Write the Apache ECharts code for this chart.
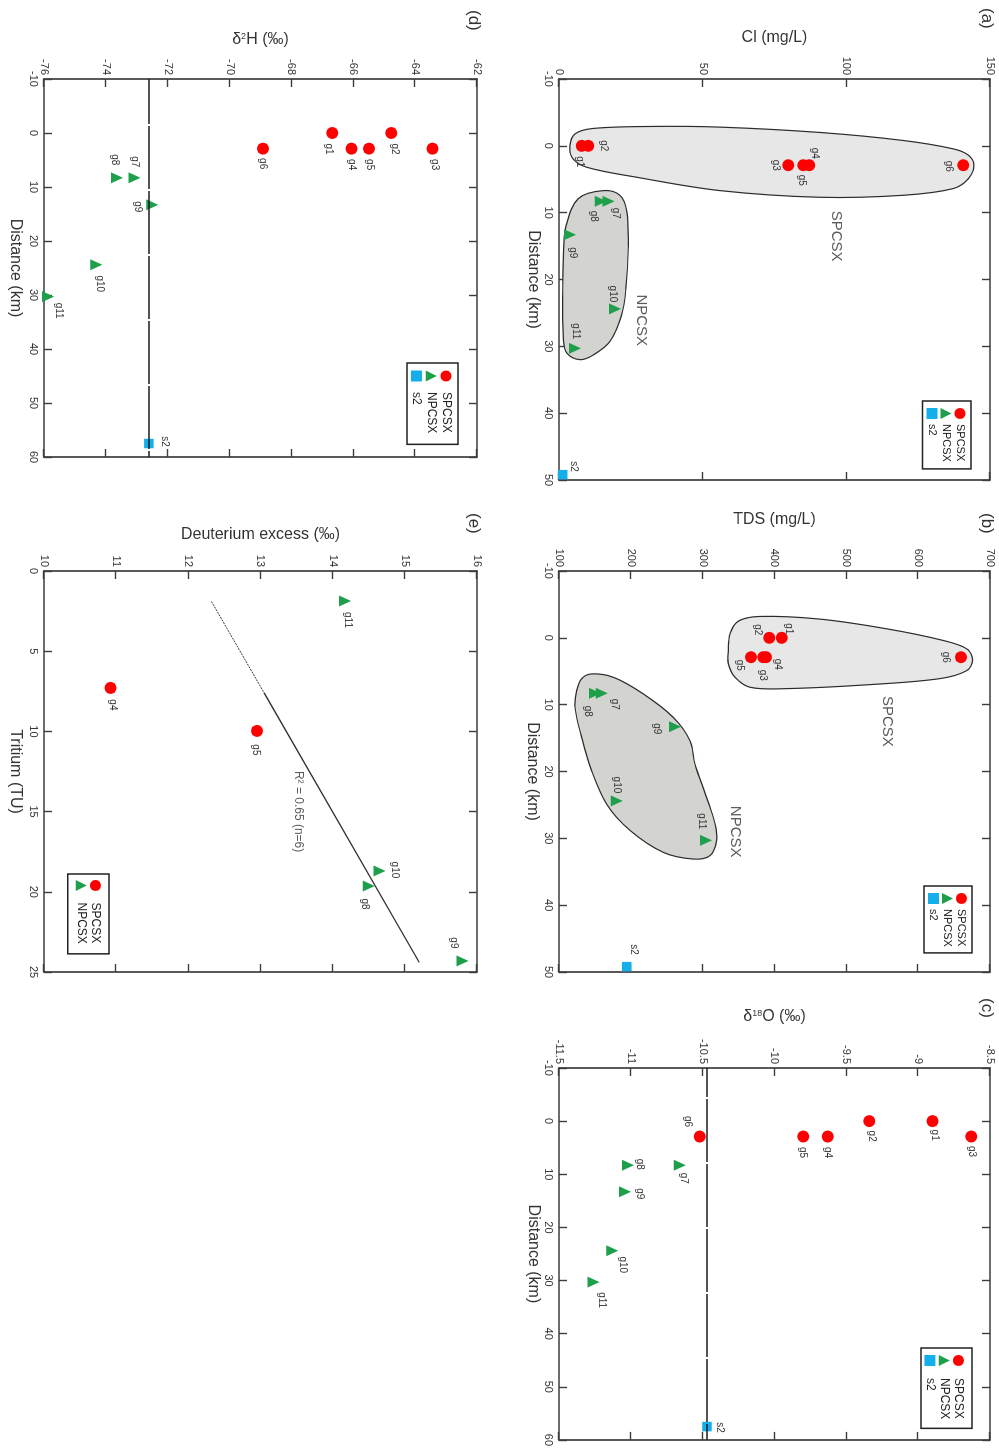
<!DOCTYPE html>
<html>
<head>
<meta charset="utf-8">
<title>Groundwater chemistry and isotopes along the flow path</title>
<script src="https://cdn.jsdelivr.net/npm/echarts/dist/echarts.min.js"></script>
<style>
  html, body { margin: 0; padding: 0; width: 999px; height: 1449px; overflow: hidden; background: #fff; }
  /* the figure is laid out landscape and turned a quarter turn clockwise */
  #figure {
    position: absolute; left: 0; top: 0;
    width: 1449px; height: 999px;
    transform-origin: 0 0;
    transform: translate(999px, 0) rotate(90deg);
  }
</style>
</head>
<body>
<div id="figure"></div>
<script>
// ---------- sample data ----------
const spNames = ['g1', 'g2', 'g3', 'g4', 'g5', 'g6'];      // SPCSX springs
const npNames = ['g7', 'g8', 'g9', 'g10', 'g11'];          // NPCSX springs
const s2Name = ['s2'];

// distance along the flow path (km)
const spDistance = [0, 0, 2.9, 2.9, 2.9, 2.9];
const npDistance = [8.3, 8.3, 13.3, 24.4, 30.3];
const s2DistanceEdge = [49.2];   // drawn at the end of the 0-50 km axis
const s2Distance = [57.5];

// Cl (mg/L)
const spCl = [7.9, 10.2, 79.8, 87.1, 85.0, 140.7];
const npCl = [17.2, 14.5, 3.8, 19.5, 5.6];
const s2Cl = [1.3];

// TDS (mg/L)
const spTDS = [410, 392.8, 384.5, 388.2, 367.3, 659.6];
const npTDS = [159.4, 150.1, 261.5, 180.3, 304.7];
const s2TDS = [194.2];

// delta 18O (permil)
const spO18 = [-8.90, -9.34, -8.63, -9.63, -9.80, -10.52];
const npO18 = [-10.66, -11.02, -11.04, -11.13, -11.26];
const s2O18 = [-10.47];

// delta 2H (permil)
const spH2 = [-66.68, -64.77, -63.44, -66.06, -65.49, -68.92];
const npH2 = [-73.07, -73.64, -72.50, -74.31, -75.87];
const s2H2 = [-72.61];

// tritium (TU) vs deuterium excess (permil)
const spTritNames = ['g4', 'g5'];
const spTritium = [7.29, 9.97];
const spDexcess = [10.92, 12.95];
const npTritNames = ['g8', 'g9', 'g10', 'g11'];
const npTritium = [19.64, 24.31, 18.70, 1.87];
const npDexcess = [14.50, 15.80, 14.65, 14.17];

// regression line, dotted start then solid
const trendTritium = [1.9, 7.6, 24.4];
const trendDexcess = [12.32, 13.05, 15.20];
const trendText = 'R\u00b2 = 0.65 (n=6)';

// outlines of the two spring groups: [distance, value]
const clFieldSP = [[0, 3.8], [-1.8, 5.6], [-2.6, 11.9], [-2.9, 32.8], [-2.8, 56], [-2.0, 90.8], [-0.8, 119.8],
  [0.45, 137.2], [1.4, 142.5], [2.9, 144.4], [4.9, 142.5], [6.4, 137.2], [7.4, 119.8], [7.7, 90.8],
  [6.7, 56], [4.7, 27], [3.2, 9.6], [1.9, 4.8]];
const clFieldNP = [[6.7, 15.4], [7.4, 21.2], [9.9, 23.6], [15.4, 24.1], [21.3, 23.3], [25.3, 21.8],
  [29.3, 17.7], [31.3, 11.9], [32.0, 7.3], [31.0, 2.7], [28.8, 1.5], [21.3, 1.3], [15.4, 1.6], [11.9, 2.5], [7.9, 6.7]];
const tdsFieldSP = [[1.9, 335.7], [-0.6, 338.1], [-2.5, 349.7], [-3.2, 379.8], [-2.8, 463.4], [-1.35, 556.2],
  [0.4, 635], [1.65, 667.6], [3.3, 675.9], [4.9, 667.6], [6.1, 630.4], [7.0, 533], [7.6, 417],
  [7.4, 365.9], [5.9, 345], [3.9, 335.7]];
const tdsFieldNP = [[10.4, 122.3], [7.9, 124.6], [6.1, 131.6], [5.4, 145.5], [5.9, 175.6], [8.4, 217.4],
  [11.9, 259.1], [15.4, 282.4], [18.9, 289.3], [23.9, 305.6], [27.8, 317.2], [30.3, 319.5], [32.6, 310.2],
  [33.1, 287], [32.1, 245.2], [28.8, 198.8], [24.9, 166.4], [19.9, 145.5], [14.9, 131.6]];

// group names written next to the outlines: [distance, value]
const clFieldText = [{ text: 'SPCSX', at: [13.5, 96.4] }, { text: 'NPCSX', at: [26.1, 28.5] }];
const tdsFieldText = [{ text: 'SPCSX', at: [12.5, 557] }, { text: 'NPCSX', at: [29.0, 345] }];

// ---------- styling ----------
const FONT = "'Liberation Sans', Arial, Helvetica, sans-serif";
const INK = '#333';
const RED = '#ff0000', GREEN = '#1e9f4b', BLUE = '#14aeea';
const FRAME = { color: '#3d3d3d', width: 1.7 };

// label placement around each marker (px, landscape orientation)
const labelOffsets = [
  { g1: [16, 2], g2: [0, -15], g3: [0, 13], g4: [-12, -5], g5: [15, 1], g6: [1, 15], g7: [12, -7], g8: [15, 7],
    g9: [18, -3], g10: [-15, 2], g11: [-17, -1], s2: [-8, -11] },
  { g1: [-9, -7], g2: [-8, 12], g3: [18, 1], g4: [7, -12], g5: [8, 11], g6: [0, 15], g7: [11, -13], g8: [18, 7],
    g9: [2, 18], g10: [-16, 0], g11: [-19, 4], s2: [-17, -7] },
  { g1: [14, -2], g2: [15, -2], g3: [15, 0], g4: [16, 0], g5: [16, 0], g6: [-15, 12], g7: [13, -4], g8: [-1, -12],
    g9: [2, -15], g10: [14, -11], g11: [18, -8], s2: [1, -13] },
  { g1: [16, 4], g2: [16, -3], g3: [16, -2], g4: [16, 0], g5: [16, -1], g6: [15, 0], g7: [-16, 0], g8: [-18, 2],
    g9: [2, 14], g10: [19, -3], g11: [14, -11], s2: [-2, -16] },
  { g11: [19, -3], g4: [17, -2], g5: [19, 1], g10: [-1, -15], g8: [18, 4], g9: [-18, 9] }
];

const grids = [
  { left: 79, top: 9, width: 401, height: 431 },
  { left: 571, top: 9, width: 401, height: 431 },
  { left: 1068, top: 9, width: 375, height: 431 },
  { left: 79, top: 522, width: 378, height: 433 },
  { left: 571, top: 522, width: 401, height: 433 }
];

const isoRich = {
  n: { fontFamily: FONT, fontSize: 16, color: INK },
  s: { fontFamily: FONT, fontSize: 9, color: INK, verticalAlign: 'top' }
};

const panels = [
  { x: [-10, 50, 10], xName: 'Distance (km)', xGap: 18, y: [0, 150, 50], yName: 'Cl (mg/L)', yGap: 33 },
  { x: [-10, 50, 10], xName: 'Distance (km)', xGap: 19, y: [100, 700, 100], yName: 'TDS (mg/L)', yGap: 43 },
  { x: [-10, 60, 10], xName: 'Distance (km)', xGap: 18, y: [-11.5, -8.5, 0.5], yName: '{n|\u03b4}{s|18}{n|O (\u2030)}', yGap: 43 },
  { x: [-10, 60, 10], xName: 'Distance (km)', xGap: 21, y: [-76, -62, 2], yName: '{n|\u03b4}{s|2}{n|H (\u2030)}', yGap: 31 },
  { x: [0, 25, 5], xName: 'Tritium (TU)', xGap: 21, y: [10, 16, 1], yName: 'Deuterium excess (\u2030)', yGap: 28 }
];

// ---------- axes ----------
const tick = { show: true, inside: true, length: 8, lineStyle: { color: FRAME.color, width: 1.4 } };
const xAxes = [], yAxes = [];
panels.forEach((p, g) => {
  const common = (r) => ({ type: 'value', gridIndex: g, min: r[0], max: r[1], interval: r[2],
    splitLine: { show: false }, axisLine: { show: true, onZero: false, lineStyle: FRAME }, axisTick: tick });
  xAxes.push(Object.assign(common(p.x), {
    position: 'bottom', name: p.xName, nameLocation: 'middle', nameGap: p.xGap,
    nameTextStyle: { fontFamily: FONT, fontSize: 16, color: INK },
    axisLabel: { fontFamily: FONT, fontSize: 11, color: INK, margin: 5 }
  }));
  xAxes.push(Object.assign(common(p.x), { position: 'top', axisLabel: { show: false } }));
  yAxes.push(Object.assign(common(p.y), {
    position: 'left', name: p.yName, nameLocation: 'middle', nameGap: p.yGap,
    nameTextStyle: { fontFamily: FONT, fontSize: 16, color: INK, rich: isoRich },
    axisLabel: { fontFamily: FONT, fontSize: 11, color: INK, margin: 4 }
  }));
  yAxes.push(Object.assign(common(p.y), { position: 'right', axisLabel: { show: false } }));
});

// ---------- series builders ----------
function points(g, name, xs, ys, names, symbol, size, color) {
  const offs = labelOffsets[g];
  return {
    type: 'scatter', name, xAxisIndex: g * 2, yAxisIndex: g * 2, symbol, symbolSize: size, z: 3,
    itemStyle: { color, opacity: 1 },
    label: { show: true, position: 'inside', formatter: '{b}', fontFamily: FONT, fontSize: 10, color: INK },
    data: xs.map((x, i) => ({ name: names[i], value: [x, ys[i]], label: { offset: offs[names[i]] || [0, 0] } }))
  };
}

function field(g, outline, fill) {
  return {
    type: 'custom', name: 'field', xAxisIndex: g * 2, yAxisIndex: g * 2, z: 1, silent: true,
    data: outline,
    renderItem(params, api) {
      if (params.dataIndex !== 0) return null;
      const pts = outline.map(p => api.coord(p));
      return { type: 'polygon', shape: { points: pts, smooth: 0.35 },
        style: { fill, stroke: '#2b2b2b', lineWidth: 1.2 } };
    }
  };
}

function texts(g, list, size) {
  return {
    type: 'scatter', name: 'note', xAxisIndex: g * 2, yAxisIndex: g * 2, symbolSize: 1, silent: true, z: 4,
    itemStyle: { color: 'rgba(0,0,0,0)' },
    label: { show: true, position: 'inside', formatter: '{b}', fontFamily: FONT, fontSize: size, color: INK },
    data: list.map(t => ({ name: t.text, value: t.at }))
  };
}

function s2Line(series, dash, offset) {
  series.markLine = {
    silent: true, symbol: ['none', 'none'], label: { show: false },
    lineStyle: { color: '#1c1c1c', width: 1.5, type: dash, dashOffset: offset },
    data: [{ yAxis: series.data[0].value[1] }]
  };
  return series;
}

const TRI = [11, 12];
const series = [
  // (a) Cl
  field(0, clFieldSP, '#e7e7e7'), field(0, clFieldNP, '#d3d3d0'), texts(0, clFieldText, 15),
  points(0, 'SPCSX', spDistance, spCl, spNames, 'circle', 12, RED),
  points(0, 'NPCSX', npDistance, npCl, npNames, 'triangle', TRI, GREEN),
  points(0, 's2', s2DistanceEdge, s2Cl, s2Name, 'rect', 9.5, BLUE),
  // (b) TDS
  field(1, tdsFieldSP, '#e7e7e7'), field(1, tdsFieldNP, '#d3d3d0'), texts(1, tdsFieldText, 15),
  points(1, 'SPCSX', spDistance, spTDS, spNames, 'circle', 12, RED),
  points(1, 'NPCSX', npDistance, npTDS, npNames, 'triangle', TRI, GREEN),
  points(1, 's2', s2DistanceEdge, s2TDS, s2Name, 'rect', 9.5, BLUE),
  // (c) delta 18O
  points(2, 'SPCSX', spDistance, spO18, spNames, 'circle', 12, RED),
  points(2, 'NPCSX', npDistance, npO18, npNames, 'triangle', TRI, GREEN),
  s2Line(points(2, 's2', s2Distance, s2O18, s2Name, 'rect', 9.5, BLUE), [63, 2], 34),
  // (d) delta 2H
  points(3, 'SPCSX', spDistance, spH2, spNames, 'circle', 12, RED),
  points(3, 'NPCSX', npDistance, npH2, npNames, 'triangle', TRI, GREEN),
  s2Line(points(3, 's2', s2Distance, s2H2, s2Name, 'rect', 9.5, BLUE), [63, 2], 18),
  // (e) tritium vs deuterium excess
  {
    type: 'line', name: 'trend', xAxisIndex: 8, yAxisIndex: 8, silent: true, symbol: 'none', z: 2,
    lineStyle: { color: '#3a3a3a', width: 1, type: [2, 1] },
    data: [[trendTritium[0], trendDexcess[0]], [trendTritium[1], trendDexcess[1]]]
  },
  {
    type: 'line', name: 'trend', xAxisIndex: 8, yAxisIndex: 8, silent: true, symbol: 'none', z: 2,
    lineStyle: { color: '#2e2e2e', width: 1.3 },
    data: [[trendTritium[1], trendDexcess[1]], [trendTritium[2], trendDexcess[2]]]
  },
  texts(4, [{ text: trendText, at: [15.0, 13.52] }], 12),
  points(4, 'SPCSX', spTritium, spDexcess, spTritNames, 'circle', 12, RED),
  points(4, 'NPCSX', npTritium, npDexcess, npTritNames, 'triangle', TRI, GREEN)
];

// ---------- legends ----------
const legendFull = [{ name: 'SPCSX', icon: 'circle' }, { name: 'NPCSX', icon: 'triangle' }, { name: 's2', icon: 'rect' }];
function legendBox(left, top, pad, gap, font, textPad, items) {
  return {
    left, top, orient: 'vertical', padding: pad, itemGap: gap, itemWidth: 11, itemHeight: 11,
    borderColor: '#222', borderWidth: 1.5, borderRadius: 0, selectedMode: false,
    textStyle: { fontFamily: FONT, fontSize: font, color: '#222', lineHeight: 11, padding: [0, 0, 0, textPad] },
    data: items
  };
}
const legends = [
  legendBox(401, 28, [5.5, 7, 4, 7], 3, 11, 0, legendFull),
  legendBox(886, 27, [5, 6, 4, 7], 3, 11, 0, legendFull),
  legendBox(1348, 27, [7.5, 9, 3, 7], 2.3, 12, 7, legendFull),
  legendBox(363, 541, [6, 11, 3.5, 7.5], 2.8, 12, 5.5, legendFull),
  legendBox(874, 890, [7.5, 10, 7.5, 6], 2.3, 12, 6.5, legendFull.slice(0, 2))
];

// ---------- panel letters ----------
const letterStyle = { fontFamily: FONT, fontSize: 17, fontWeight: 'normal', color: INK };
const letters = [['(a)', 8, 4], ['(b)', 513, 4], ['(c)', 998, 4], ['(d)', 10, 517], ['(e)', 513, 517]]
  .map(([text, left, top]) => ({ text, left, top, padding: 0, textStyle: letterStyle }));

const chart = echarts.init(document.getElementById('figure'), null, { renderer: 'canvas', width: 1449, height: 999 });
chart.setOption({
  animation: false,
  backgroundColor: '#fff',
  title: letters,
  legend: legends,
  grid: grids,
  xAxis: xAxes,
  yAxis: yAxes,
  series
});
</script>
</body>
</html>
